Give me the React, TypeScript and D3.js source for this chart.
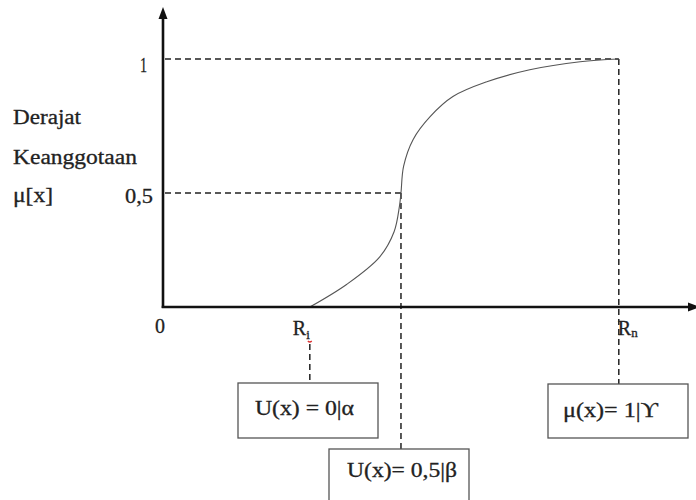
import React from "react";
import * as d3 from "d3";

// Membership curve (S-curve)
const curveX = [27.7, 34.7, 40.9, 43.6, 44.6, 44.9, 45.4, 47.2, 50.4, 54.7, 61.1, 69.2, 78.7, 86.0];
const curveY = [0, 0.1, 0.22, 0.33, 0.44, 0.5, 0.6, 0.7, 0.785, 0.86, 0.915, 0.96, 0.99, 1];

// Key x positions: Ri (alpha), beta, Rn (gamma)
const keyNames = ["Ri", "beta", "Rn"];
const keyX = [27.7, 44.9, 86.0];
const keyY = [0, 0.5, 1];
const boxLabels = ["U(x) = 0|α", "U(x)= 0,5|β", "μ(x)= 1|ϒ"];
const yTickValues = [1, 0.5];
const yTickLabels = ["1", "0,5"];
const yTitleLines = ["Derajat", "Keanggotaan", "μ[x]"];

const W = 696;
const H = 500;
const FONT = "Liberation Serif, Times New Roman, Times, serif";

export default function App() {
  const x = d3.scaleLinear().domain([0, 100]).range([163, 693]);
  const y = d3.scaleLinear().domain([0, 0.5, 1]).range([307, 193, 59]);
  const pts: [number, number][] = curveX.map((v, i) => [v, curveY[i]]);
  const line = d3
    .line<[number, number]>()
    .x((d) => x(d[0]))
    .y((d) => y(d[1]))
    .curve(d3.curveCatmullRom.alpha(0.5));

  const x0 = x(0);
  const y0 = y(0);
  const dash = "6 4";
  const dashColor = "#222";

  const txt = (s: string, tx: number, ty: number, len: number, key: string, size = 20) => (
    <text
      key={key}
      x={tx}
      y={ty}
      textLength={len}
      lengthAdjust="spacingAndGlyphs"
      fontFamily={FONT}
      fontSize={size}
      fill="#222"
      stroke="#222"
      strokeWidth={0.3}
    >
      {s}
    </text>
  );

  const boxes = [
    { cx: x(keyX[0]), top: 383, h: 55, w: 140, left: 238 },
    { cx: x(keyX[1]), top: 449, h: 60, w: 140, left: 329 },
    { cx: x(keyX[2]), top: 384, h: 54, w: 140, left: 548 },
  ];
  const dashStart = [344, y(keyY[1]), y(keyY[2])];

  return (
    <svg
      width={W}
      height={H}
      style={{ position: "absolute", left: 0, top: 0, background: "#fff" }}
    >
      <rect x={0} y={0} width={W} height={H} fill="#fff" />

      {/* dashed guides horizontal */}
      {yTickValues.map((v, i) => (
        <line
          key={"h" + i}
          x1={x0 + 2}
          x2={x(keyX[i === 0 ? 2 : 1])}
          y1={y(v)}
          y2={y(v)}
          stroke={dashColor}
          strokeWidth={1.3}
          strokeDasharray={dash}
        />
      ))}

      {/* dashed guides vertical to boxes */}
      {boxes.map((b, i) => (
        <line
          key={"v" + i}
          x1={b.cx}
          x2={b.cx}
          y1={dashStart[i]}
          y2={b.top}
          stroke={dashColor}
          strokeWidth={1.5}
          strokeDasharray={dash}
        />
      ))}

      {/* curve */}
      <path d={line(pts) || ""} fill="none" stroke="#555" strokeWidth={1.1} />

      {/* axes */}
      <line x1={x0} x2={x0} y1={y0 + 1} y2={17} stroke="#111" strokeWidth={2.6} />
      <path d={`M${x0},7 L${x0 - 4.5},19 L${x0 + 4.5},19 Z`} fill="#111" />
      <line x1={x0 - 1.3} x2={690} y1={y0} y2={y0} stroke="#111" strokeWidth={2.6} />
      <path d={`M700,${y0} L688,${y0 - 4.5} L688,${y0 + 4.5} Z`} fill="#111" />

      {/* y title */}
      {txt(yTitleLines[0], 13, 124, 68, "t0")}
      {txt(yTitleLines[1], 13, 164, 124, "t1")}
      {txt(yTitleLines[2], 13, 202, 40, "t2")}

      {/* y tick labels */}
      {txt(yTickLabels[0], 140, y(yTickValues[0]) + 13, 7, "yl0")}
      {txt(yTickLabels[1], 125, y(yTickValues[1]) + 10, 28, "yl1")}

      {/* x labels */}
      {txt("0", x0 - 8, 333, 10, "x0")}
      <text x={x(keyX[0]) - 17} y={335} fontFamily={FONT} fontSize={20} fill="#222" stroke="#222" strokeWidth={0.3}>
        R<tspan fontSize={13} dy={4}>i</tspan>
      </text>
      <path
        d={`M${x(keyX[0]) - 2},${341} q2,2 4,0`}
        stroke="#d33"
        strokeWidth={1.2}
        fill="none"
      />
      <text x={x(keyX[2]) - 1} y={335} fontFamily={FONT} fontSize={20} fill="#222" stroke="#222" strokeWidth={0.3}>
        R<tspan fontSize={13} dy={2}>n</tspan>
      </text>

      {/* boxes */}
      {boxes.map((b, i) => (
        <rect
          key={"b" + i}
          x={b.left}
          y={b.top}
          width={b.w}
          height={b.h}
          fill="#fff"
          stroke="#555"
          strokeWidth={1.3}
        />
      ))}
      {txt(boxLabels[0], 255, 415, 99, "bl0")}
      {txt(boxLabels[1], 347, 477, 110, "bl1")}
      {txt(boxLabels[2], 563, 417, 95, "bl2")}
    </svg>
  );
}
